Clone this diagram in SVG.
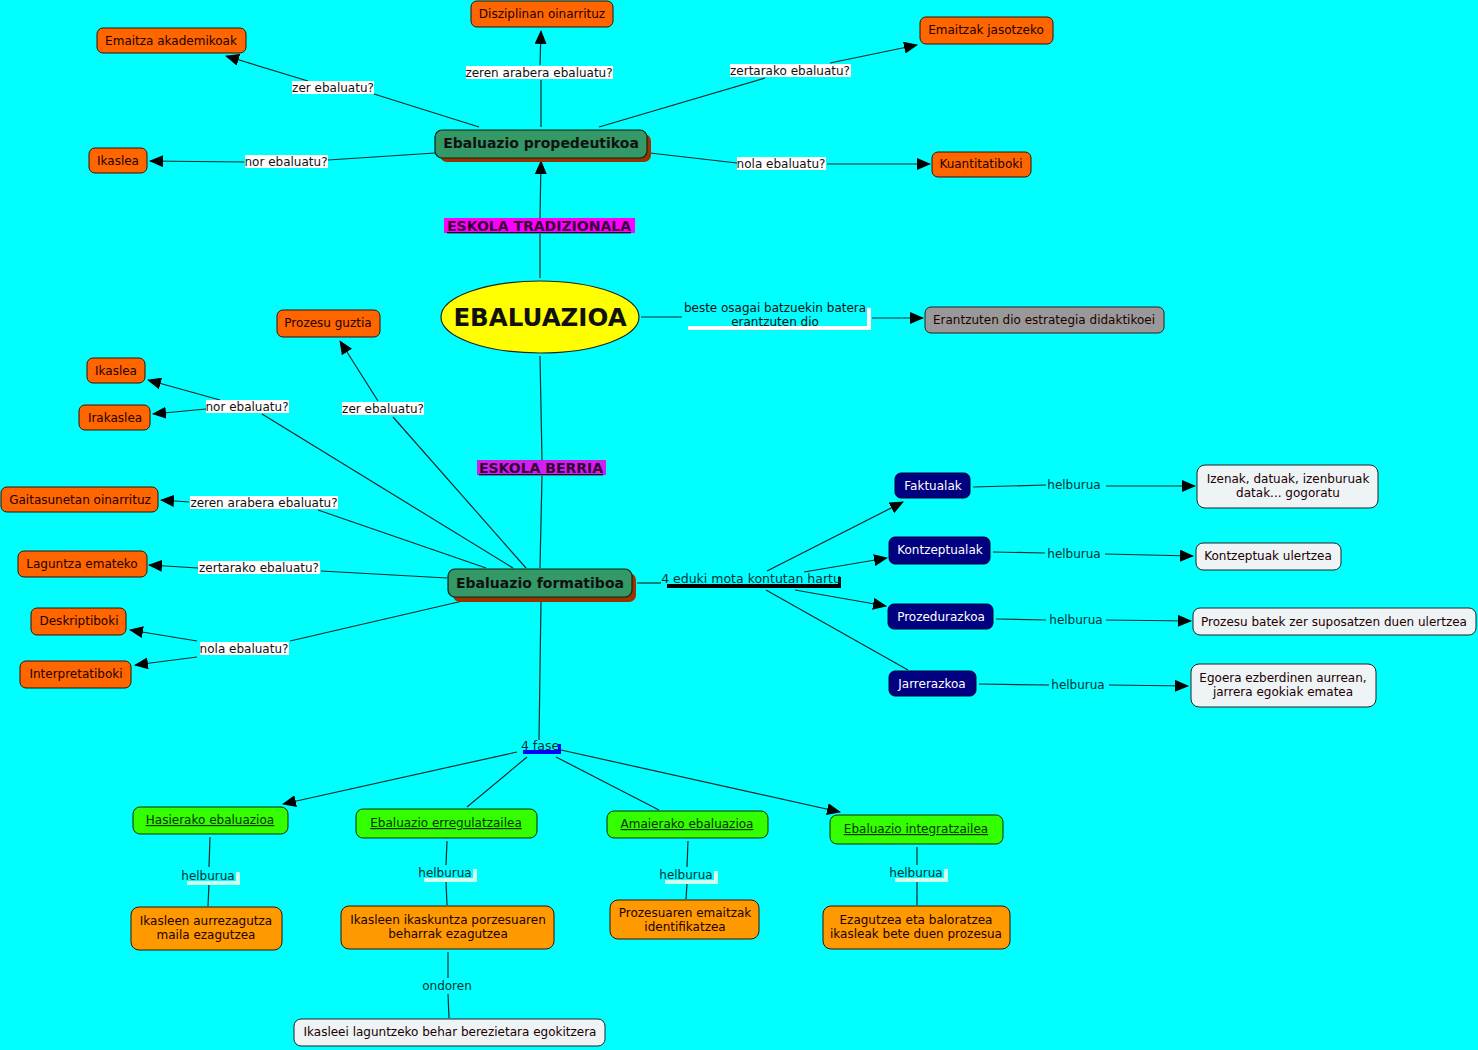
<svg xmlns="http://www.w3.org/2000/svg" width="1478" height="1050" viewBox="0 0 1478 1050">
<defs>
<marker id="arr" markerWidth="14" markerHeight="12" refX="13" refY="6" orient="auto" markerUnits="userSpaceOnUse">
<path d="M0,0 L14,6 L0,12 z" fill="#000"/>
</marker>
<style>
text{font-family:"DejaVu Sans","Verdana",sans-serif;font-size:12px;text-anchor:middle;}
.or{fill:#FF6600;stroke:#331100;stroke-width:1;}
.or2{fill:#FF9900;stroke:#331100;stroke-width:1;}
.gr{fill:#33FF00;stroke:#003300;stroke-width:1;}
.nv{fill:#000080;stroke:#000033;stroke-width:1;}
.lt{fill:#EEF3F6;stroke:#222;stroke-width:1;}
.dk{fill:#339966;stroke:#112211;stroke-width:1.2;}
.sh{fill:#993300;}
.t{fill:#220000;}
.tw{fill:#fff;}
.tb{font-weight:bold;font-size:14px;fill:#111;}
.tu{text-decoration:underline;fill:#003300;}
.c{stroke:#0d2a2a;stroke-width:1.2;fill:none;}
.ca{stroke:#0d2a2a;stroke-width:1.2;fill:none;marker-end:url(#arr);}
.lb{fill:#fff;}
.lx{fill:#111;}
.hl{fill:#003333;}
.es{font-weight:bold;font-size:14px;text-decoration:underline;fill:#330033;}
</style>
</defs>
<rect width="1478" height="1050" fill="#00FFFF"/>

<g id="connectors">
<path class="c" d="M479,127 L374,94"/><path class="ca" d="M308,81 L226,56"/>
<path class="c" d="M541,127 L541,80"/><path class="ca" d="M540,65 L541,31"/>
<path class="c" d="M599,127 L765,78"/><path class="ca" d="M830,63 L917,45"/>
<path class="c" d="M435,153 L328,160"/><path class="ca" d="M244,162 L150,161"/>
<path class="c" d="M650,153 L737,163"/><path class="ca" d="M827,164 L930,164"/>
<path class="c" d="M540,278 L540,234"/><path class="ca" d="M540,218 L541,161"/>
<path class="c" d="M641,317 L682,317"/><path class="ca" d="M872,318 L923,318"/>
<path class="c" d="M540,356 L542,460"/><path class="c" d="M542,476 L540,568"/>
<path class="c" d="M526,568 L393,417"/><path class="ca" d="M378,401 L340,341"/>
<path class="c" d="M513,568 L262,414"/><path class="ca" d="M220,400 L148,380"/><path class="ca" d="M206,409 L153,414"/>
<path class="c" d="M486,568 L318,510"/><path class="ca" d="M189,502 L161,500"/>
<path class="c" d="M447,578 L321,571"/><path class="ca" d="M198,568 L149,565"/>
<path class="c" d="M467,600 L290,641"/><path class="ca" d="M197,641 L130,630"/><path class="ca" d="M197,657 L135,665"/>
<path class="c" d="M637,583 L661,583"/>
<path class="ca" d="M767,571 L903,502"/>
<path class="ca" d="M804,572 L887,558"/>
<path class="ca" d="M795,590 L886,606"/>
<path class="c" d="M766,590 L908,670"/>
<path class="c" d="M973,487 L1046,485"/><path class="ca" d="M1106,486 L1195,486"/>
<path class="c" d="M993,552 L1045,553"/><path class="ca" d="M1105,554 L1193,556"/>
<path class="c" d="M996,619 L1046,620"/><path class="ca" d="M1106,620 L1191,621"/>
<path class="c" d="M979,684 L1049,685"/><path class="ca" d="M1109,685 L1188,686"/>
<path class="c" d="M541,600 L539,740"/>
<path class="ca" d="M517,752 L283,804"/>
<path class="c" d="M527,757 L467,807"/>
<path class="c" d="M556,757 L659,810"/>
<path class="ca" d="M561,750 L840,812"/>
<path class="c" d="M210,837 L209,867"/><path class="c" d="M209,884 L208,906"/>
<path class="c" d="M447,841 L446,865"/><path class="c" d="M446,882 L447,905"/>
<path class="c" d="M688,841 L687,867"/><path class="c" d="M687,884 L686,899"/>
<path class="c" d="M917,847 L917,865"/><path class="c" d="M917,882 L917,905"/>
<path class="c" d="M448,952 L448,978"/><path class="c" d="M448,994 L449,1018"/>
</g>

<g id="conn-labels">
<rect class="lb" x="292" y="81" width="82" height="13"/><text class="lx" x="333" y="92">zer ebaluatu?</text>
<rect class="lb" x="466" y="66" width="147" height="13"/><text class="lx" x="539" y="77">zeren arabera ebaluatu?</text>
<rect class="lb" x="730" y="64" width="121" height="13"/><text class="lx" x="790" y="75">zertarako ebaluatu?</text>
<rect class="lb" x="245" y="155" width="83" height="13"/><text class="lx" x="286" y="166">nor ebaluatu?</text>
<rect class="lb" x="737" y="157" width="89" height="13"/><text class="lx" x="781" y="168">nola ebaluatu?</text>
<rect x="444" y="218" width="191" height="15" fill="#FF00FF"/><text class="es" x="539" y="231">ESKOLA TRADIZIONALA</text>
<rect x="688" y="326" width="183" height="4" fill="#fff"/><rect x="867" y="308" width="4" height="22" fill="#fff"/>
<text class="lx" x="775" y="312">beste osagai batzuekin batera</text><text class="lx" x="775" y="326">erantzuten dio</text>
<rect x="477" y="460" width="129" height="15" fill="#D020F0"/><text class="es" x="541" y="473">ESKOLA BERRIA</text>
<rect class="lb" x="342" y="402" width="82" height="13"/><text class="lx" x="383" y="413">zer ebaluatu?</text>
<rect class="lb" x="206" y="400" width="83" height="13"/><text class="lx" x="247" y="411">nor ebaluatu?</text>
<rect class="lb" x="190" y="496" width="148" height="13"/><text class="lx" x="264" y="507">zeren arabera ebaluatu?</text>
<rect class="lb" x="198" y="561" width="122" height="13"/><text class="lx" x="259" y="572">zertarako ebaluatu?</text>
<rect class="lb" x="200" y="642" width="89" height="13"/><text class="lx" x="244" y="653">nola ebaluatu?</text>
<rect x="667" y="584" width="174" height="4" fill="#000"/><rect x="838" y="577" width="3" height="10" fill="#000"/>
<text class="hl" x="751" y="583" style="font-size:12.5px">4 eduki mota kontutan hartu</text>
<text class="hl" x="1074" y="489">helburua</text>
<text class="hl" x="1074" y="558">helburua</text>
<text class="hl" x="1076" y="624">helburua</text>
<text class="hl" x="1078" y="689">helburua</text>
<rect x="523" y="750" width="38" height="4" fill="#0000FF"/><rect x="558" y="744" width="3" height="10" fill="#0000FF"/>
<text class="hl" x="540" y="750" style="font-size:12.5px">4 fase</text>
<rect x="187" y="872" width="53" height="13" fill="#CCFFEE"/><rect x="183" y="868" width="53" height="13" fill="#00FFFF"/><text class="hl" x="208" y="880">helburua</text>
<rect x="424" y="869" width="53" height="13" fill="#CCFFEE"/><rect x="420" y="865" width="53" height="13" fill="#00FFFF"/><text class="hl" x="445" y="877">helburua</text>
<rect x="665" y="871" width="53" height="13" fill="#CCFFEE"/><rect x="661" y="867" width="53" height="13" fill="#00FFFF"/><text class="hl" x="686" y="879">helburua</text>
<rect x="895" y="869" width="53" height="13" fill="#CCFFEE"/><rect x="891" y="865" width="53" height="13" fill="#00FFFF"/><text class="hl" x="916" y="877">helburua</text>
<text class="hl" x="447" y="990">ondoren</text>
</g>

<g id="n-ebaluazioa"><ellipse cx="540" cy="317" rx="99" ry="36" fill="#FFFF00" stroke="#222" stroke-width="1.2"/><text x="540" y="326" style="font-weight:bold;font-size:24.5px;fill:#111">EBALUAZIOA</text></g>
<g id="n-propedeutikoa"><rect class="sh" x="440" y="134" width="211" height="28" rx="7"/><rect class="dk" x="435" y="130" width="212" height="28" rx="7"/><text class="tb" x="541" y="148">Ebaluazio propedeutikoa</text></g>
<g id="n-formatiboa"><rect class="sh" x="453" y="573" width="183" height="29" rx="7"/><rect class="dk" x="448" y="569" width="184" height="28" rx="7"/><text class="tb" x="540" y="588">Ebaluazio formatiboa</text></g>
<g id="n-disziplinan"><rect class="or" x="471" y="1" width="142" height="26" rx="6"/><text class="t" x="542" y="18">Disziplinan oinarrituz</text></g>
<g id="n-emaitza-akad"><rect class="or" x="97" y="28" width="149" height="25" rx="6"/><text class="t" x="171" y="45">Emaitza akademikoak</text></g>
<g id="n-emaitzak-jas"><rect class="or" x="920" y="17" width="133" height="27" rx="6"/><text class="t" x="986" y="34">Emaitzak jasotzeko</text></g>
<g id="n-ikaslea1"><rect class="or" x="89" y="148" width="58" height="25" rx="6"/><text class="t" x="118" y="165">Ikaslea</text></g>
<g id="n-kuantitatiboki"><rect class="or" x="932" y="152" width="99" height="25" rx="6"/><text class="t" x="981" y="168">Kuantitatiboki</text></g>
<g id="n-erantzuten"><rect x="925" y="307" width="239" height="26" rx="6" fill="#999999" stroke="#222"/><text class="t" x="1044" y="324">Erantzuten dio estrategia didaktikoei</text></g>
<g id="n-prozesu-guztia"><rect class="or" x="277" y="310" width="103" height="27" rx="6"/><text class="t" x="328" y="327">Prozesu guztia</text></g>
<g id="n-ikaslea2"><rect class="or" x="87" y="358" width="58" height="25" rx="6"/><text class="t" x="116" y="375">Ikaslea</text></g>
<g id="n-irakaslea"><rect class="or" x="79" y="405" width="71" height="25" rx="6"/><text class="t" x="115" y="422">Irakaslea</text></g>
<g id="n-gaitasunetan"><rect class="or" x="1" y="487" width="157" height="25" rx="6"/><text class="t" x="80" y="504">Gaitasunetan oinarrituz</text></g>
<g id="n-laguntza"><rect class="or" x="18" y="551" width="129" height="26" rx="6"/><text class="t" x="82" y="568">Laguntza emateko</text></g>
<g id="n-deskriptiboki"><rect class="or" x="31" y="608" width="95" height="27" rx="6"/><text class="t" x="79" y="625">Deskriptiboki</text></g>
<g id="n-interpretatiboki"><rect class="or" x="20" y="661" width="111" height="27" rx="6"/><text class="t" x="76" y="678">Interpretatiboki</text></g>
<g id="n-faktualak"><rect class="nv" x="895" y="473" width="75" height="25" rx="6"/><text class="tw" x="933" y="490">Faktualak</text></g>
<g id="n-kontzeptualak"><rect class="nv" x="889" y="537" width="101" height="27" rx="6"/><text class="tw" x="940" y="554">Kontzeptualak</text></g>
<g id="n-prozedurazkoa"><rect class="nv" x="888" y="604" width="105" height="25" rx="6"/><text class="tw" x="941" y="621">Prozedurazkoa</text></g>
<g id="n-jarrerazkoa"><rect class="nv" x="889" y="671" width="87" height="25" rx="6"/><text class="tw" x="932" y="688">Jarrerazkoa</text></g>
<g id="n-izenak"><rect class="lt" x="1197" y="465" width="181" height="43" rx="8"/><text class="t" x="1288" y="483">Izenak, datuak, izenburuak</text><text class="t" x="1288" y="497">datak... gogoratu</text></g>
<g id="n-kontzeptuak"><rect class="lt" x="1196" y="543" width="145" height="27" rx="7"/><text class="t" x="1268" y="560">Kontzeptuak ulertzea</text></g>
<g id="n-prozesu-batek"><rect class="lt" x="1193" y="608" width="283" height="27" rx="7"/><text class="t" x="1334" y="626">Prozesu batek zer suposatzen duen ulertzea</text></g>
<g id="n-egoera"><rect class="lt" x="1191" y="664" width="185" height="43" rx="8"/><text class="t" x="1283" y="682">Egoera ezberdinen aurrean,</text><text class="t" x="1283" y="696">jarrera egokiak ematea</text></g>
<g id="n-hasierako"><rect class="gr" x="133" y="807" width="155" height="27" rx="7"/><text class="tu" x="210" y="824">Hasierako ebaluazioa</text></g>
<g id="n-erregulatzailea"><rect class="gr" x="356" y="809" width="181" height="29" rx="7"/><text class="tu" x="446" y="827">Ebaluazio erregulatzailea</text></g>
<g id="n-amaierako"><rect class="gr" x="607" y="811" width="161" height="27" rx="7"/><text class="tu" x="687" y="828">Amaierako ebaluazioa</text></g>
<g id="n-integratzailea"><rect class="gr" x="830" y="815" width="173" height="29" rx="7"/><text class="tu" x="916" y="833">Ebaluazio integratzailea</text></g>
<g id="n-aurrezagutza"><rect class="or2" x="131" y="907" width="151" height="43" rx="8"/><text class="t" x="206" y="925">Ikasleen aurrezagutza</text><text class="t" x="206" y="939">maila ezagutzea</text></g>
<g id="n-ikaskuntza"><rect class="or2" x="341" y="906" width="213" height="43" rx="8"/><text class="t" x="448" y="924">Ikasleen ikaskuntza porzesuaren</text><text class="t" x="448" y="938">beharrak ezagutzea</text></g>
<g id="n-emaitzak-ident"><rect class="or2" x="610" y="900" width="149" height="39" rx="8"/><text class="t" x="685" y="917">Prozesuaren emaitzak</text><text class="t" x="685" y="931">identifikatzea</text></g>
<g id="n-ezagutzea"><rect class="or2" x="823" y="906" width="187" height="43" rx="8"/><text class="t" x="916" y="924">Ezagutzea eta baloratzea</text><text class="t" x="916" y="938">ikasleak bete duen prozesua</text></g>
<g id="n-ikasleei"><rect class="lt" x="294" y="1019" width="311" height="27" rx="7"/><text class="t" x="450" y="1036">Ikasleei laguntzeko behar berezietara egokitzera</text></g>
</svg>
